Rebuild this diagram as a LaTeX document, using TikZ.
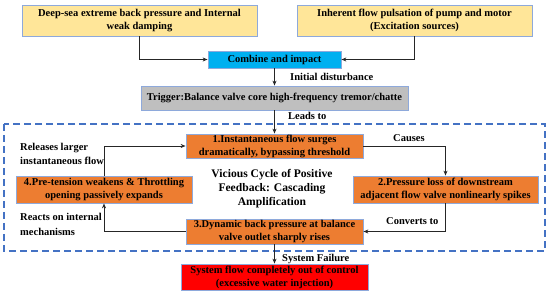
\documentclass[tikz,border=0pt]{standalone}
\usepackage{fontspec}
\setmainfont{Liberation Serif}
\usetikzlibrary{arrows.meta}
\definecolor{ylw}{HTML}{FFE699}
\definecolor{cyn}{HTML}{00B0F0}
\definecolor{gry}{HTML}{BFBFBF}
\definecolor{org}{HTML}{ED7D31}
\definecolor{rd}{HTML}{FF0000}
\definecolor{bdr}{HTML}{8EA9DB}
\definecolor{dsh}{HTML}{4472C4}
\definecolor{ln}{HTML}{262626}
\begin{document}
\begin{tikzpicture}[x=1pt,y=-1pt,
  font=\fontsize{10.5}{13}\selectfont\bfseries,
  box/.style={draw=bdr,line width=0.8pt,align=center,inner sep=0pt,anchor=center},
  arr/.style={draw=ln,line width=0.9pt,-{Stealth[length=5pt,width=4pt]}},
  lbl/.style={inner sep=0pt,anchor=west,align=left}]
\useasboundingbox (0,0) rectangle (550,294);
\node[box,fill=ylw,minimum width=235pt,minimum height=31pt] (tl) at (139.5,20.5) {Deep-sea extreme back pressure and Internal\\weak damping};
\node[box,fill=ylw,minimum width=235pt,minimum height=31pt] (tr) at (414.5,20.5) {Inherent flow pulsation of pump and motor\\(Excitation sources)};
\node[box,fill=cyn,minimum width=133pt,minimum height=17pt] (comb) at (274.5,59.5) {Combine and impact};
\node[box,fill=gry,minimum width=267pt,minimum height=24pt] (trig) at (274.5,98) {Trigger:Balance valve core high-frequency tremor/chatte};
\draw[dsh,dashed,dash pattern=on 7pt off 4pt,line width=1.6pt] (4,124) rectangle (545,251);
\node[box,fill=org,minimum width=177pt,minimum height=24pt] (b1) at (274.5,146) {1.Instantaneous flow surges\\dramatically, bypassing threshold};
\node[box,fill=org,minimum width=185pt,minimum height=27pt] (b2) at (445.5,189.5) {2.Pressure loss of downstream\\adjacent flow valve nonlinearly spikes};
\node[box,fill=org,minimum width=177pt,minimum height=25pt] (b3) at (274.5,231.5) {3.Dynamic back pressure at balance\\valve outlet sharply rises};
\node[box,fill=org,minimum width=176pt,minimum height=27pt] (b4) at (104,189.5) {4.Pre-tension weakens \& Throttling\\opening passively expands};
\node[box,fill=rd,minimum width=187pt,minimum height=26pt] (fin) at (274.5,277) {System flow completely out of control\\(excessive water injection)};
\node[inner sep=0pt,align=center,font=\fontsize{11.6}{14}\selectfont\bfseries] (ctr) at (272,189) {Vicious Cycle of Positive\\Feedback: Cascading\\Amplification};
\draw[arr] (tl.south) |- (comb.west);
\draw[arr] (tr.south) |- (comb.east);
\draw[arr] (comb.south) -- (trig.north);
\draw[arr] (trig.south) -- (b1.north);
\draw[arr] (b1.east) -| (b2.north);
\draw[arr] (b2.south) |- (b3.east);
\draw[arr] (b3.west) -| (b4.south);
\draw[arr] (b4.north) |- (b1.west);
\draw[arr] (b3.south) -- (fin.north);
\node[lbl] (l1) at (290,77) {Initial disturbance};
\node[lbl] (l2) at (288,116) {Leads to};
\node[lbl] (l3) at (393,138) {Causes};
\node[lbl] (l4) at (386,221) {Converts to};
\node[lbl,font=\fontsize{10.5}{14}\selectfont\bfseries] (l5) at (20,154) {Releases larger\\instantaneous flow};
\node[lbl,font=\fontsize{10.5}{15}\selectfont\bfseries] (l6) at (20,224.5) {Reacts on internal\\mechanisms};
\node[lbl] (l7) at (282,259) {System Failure};
\end{tikzpicture}
\end{document}
